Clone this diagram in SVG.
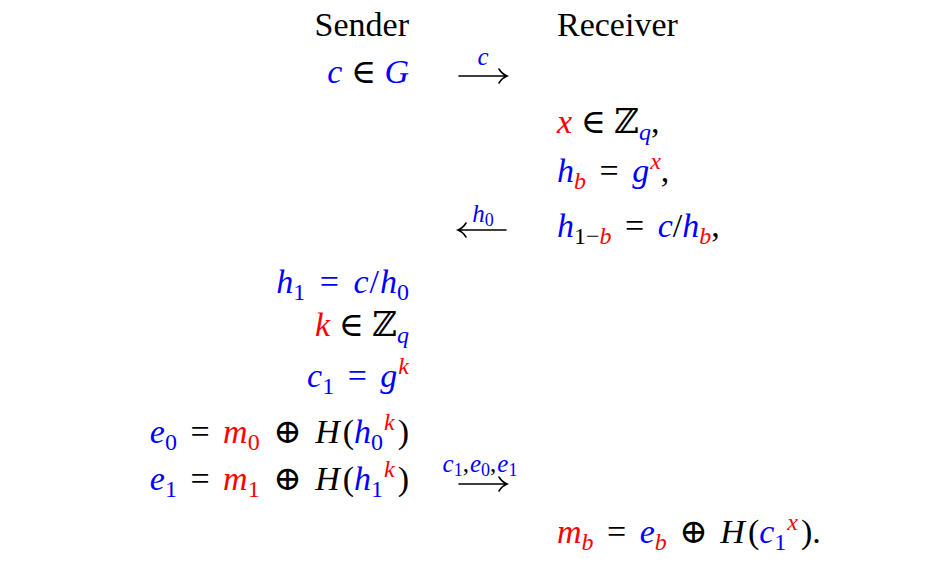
<svg xmlns="http://www.w3.org/2000/svg" width="935" height="575" viewBox="0 0 935 575">
<style>
text{font-size:34px;fill:#000}
.s{text-anchor:end}
.i{font-style:italic}
.b{fill:#0000ff}
.r{fill:#ff0000}
.sm{font-size:24px}
.lab{font-size:25px;text-anchor:middle}
.ls{font-size:18px}
.arr{fill:none;stroke:#000;stroke-width:1.6;stroke-linecap:round}
</style>
<rect width="935" height="575" fill="#fff"/>
<g font-family="Liberation Serif, DejaVu Serif, serif">
<g id="sender">
<text class="s" x="409" y="36">Sender</text>
<text class="s" x="409" y="83"><tspan class="i b">c</tspan> ∈ <tspan class="i b">G</tspan></text>
<text class="s" x="409" y="293"><tspan class="i b">h</tspan><tspan class="sm b" dy="7">1</tspan><tspan class="b" dy="-7" dx="6"> = </tspan><tspan class="i b" dx="6">c</tspan><tspan class="b" dx="1">/</tspan><tspan class="i b" dx="1">h</tspan><tspan class="sm b" dy="7">0</tspan></text>
<text class="s" x="409" y="336"><tspan class="i r">k</tspan> ∈ ℤ<tspan class="sm i b" dy="7">q</tspan></text>
<text class="s" x="409" y="387"><tspan class="i b">c</tspan><tspan class="sm b" dy="7">1</tspan><tspan class="b" dy="-7" dx="5"> = </tspan><tspan class="i b" dx="5">g</tspan><tspan class="sm i r" dy="-13" dx="1">k</tspan></text>
<text class="s" x="409" y="443"><tspan class="i b">e</tspan><tspan class="sm b" dy="7">0</tspan><tspan dy="-7" dx="5"> = </tspan><tspan class="i r" dx="5">m</tspan><tspan class="sm r" dy="7">0</tspan><tspan dy="-7" dx="5"> ⊕ </tspan><tspan class="i" dx="5">H</tspan><tspan dx="3">(</tspan><tspan class="i b">h</tspan><tspan class="sm b" dy="7">0</tspan><tspan class="sm i r" dy="-20" dx="1">k</tspan><tspan dy="13" dx="3">)</tspan></text>
<text class="s" x="409" y="490"><tspan class="i b">e</tspan><tspan class="sm b" dy="7">1</tspan><tspan dy="-7" dx="5"> = </tspan><tspan class="i r" dx="5">m</tspan><tspan class="sm r" dy="7">1</tspan><tspan dy="-7" dx="5"> ⊕ </tspan><tspan class="i" dx="5">H</tspan><tspan dx="3">(</tspan><tspan class="i b">h</tspan><tspan class="sm b" dy="7">1</tspan><tspan class="sm i r" dy="-20" dx="1">k</tspan><tspan dy="13" dx="3">)</tspan></text>
</g>
<g id="receiver">
<text x="557" y="36">Receiver</text>
<text x="557" y="133"><tspan class="i r">x</tspan> ∈ ℤ<tspan class="sm i b" dy="7">q</tspan><tspan dy="-7">,</tspan></text>
<text x="557" y="182"><tspan class="i b">h</tspan><tspan class="sm i r" dy="7">b</tspan><tspan dy="-7" dx="5"> = </tspan><tspan class="i b" dx="5">g</tspan><tspan class="sm i r" dy="-13" dx="1">x</tspan><tspan dy="13">,</tspan></text>
<text x="557" y="237"><tspan class="i b">h</tspan><tspan class="sm" dy="7">1−</tspan><tspan class="sm i r">b</tspan><tspan dy="-7" dx="5"> = </tspan><tspan class="i b" dx="5">c</tspan>/<tspan class="i b">h</tspan><tspan class="sm i r" dy="7">b</tspan><tspan dy="-7">,</tspan></text>
<text x="557" y="543"><tspan class="i r">m</tspan><tspan class="sm i r" dy="7">b</tspan><tspan dy="-7" dx="5"> = </tspan><tspan class="i b" dx="5">e</tspan><tspan class="sm i r" dy="7">b</tspan><tspan dy="-7" dx="4"> ⊕ </tspan><tspan class="i" dx="4">H</tspan><tspan dx="3">(</tspan><tspan class="i b">c</tspan><tspan class="sm b" dy="7">1</tspan><tspan class="sm i r" dy="-20" dx="1">x</tspan><tspan dy="13" dx="3">).</tspan></text>
</g>
<g id="connectors">
<g id="msg-c">
<path class="arr" d="M459,76 H507 M499,69 Q502,74 507,76 Q502,78 499,83"/>
<text class="lab" x="483" y="65"><tspan class="i b">c</tspan></text>
</g>
<g id="msg-h0">
<path class="arr" d="M458,230 H506 M466,223 Q463,228 458,230 Q463,232 466,237"/>
<text class="lab" x="483" y="222"><tspan class="i b">h</tspan><tspan class="b ls" dy="4">0</tspan></text>
</g>
<g id="msg-c1e0e1">
<path class="arr" d="M459,484 H507 M499,477 Q502,482 507,484 Q502,486 499,491"/>
<text class="lab" x="480" y="472"><tspan class="i b">c</tspan><tspan class="b ls" dy="4">1</tspan><tspan dy="-4">,</tspan><tspan class="i b" dx="1">e</tspan><tspan class="b ls" dy="4">0</tspan><tspan dy="-4">,</tspan><tspan class="i b" dx="1">e</tspan><tspan class="b ls" dy="4">1</tspan></text>
</g>
</g>
</g>
</svg>
